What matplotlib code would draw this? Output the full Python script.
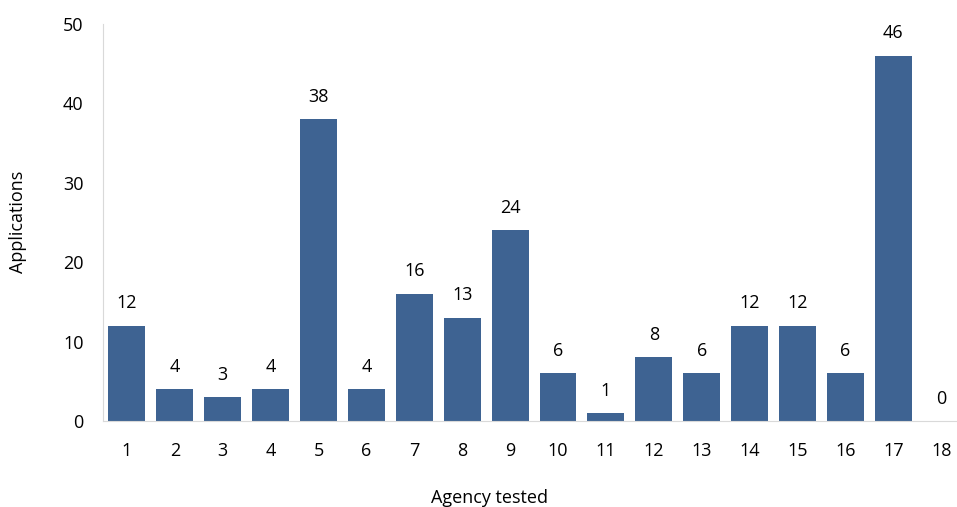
import matplotlib
matplotlib.use('Agg')
import matplotlib.pyplot as plt

# agency number and applications count
agencies = [str(i) for i in range(1, 19)]
applications = [12, 4, 3, 4, 38, 4, 16, 13, 24, 6, 1, 8, 6, 12, 12, 6, 46, 0]

plt.rcParams['font.family'] = ['Open Sans', 'DejaVu Sans']

fig = plt.figure(figsize=(9.57, 5.07), dpi=100)
ax = fig.add_axes([0.1076, 0.1696, 0.8924, 0.7831])

pos = list(range(len(agencies)))
bars = ax.bar(pos, applications, width=0.77, color='#3E6392')

for x, v in zip(pos, applications):
    ax.text(x, v + 1.7, str(v), ha='center', va='bottom', fontsize=13, color='black')

ax.set_xlim(-0.5, 17.33)
ax.set_ylim(0, 50)
ax.set_yticks([0, 10, 20, 30, 40, 50])
ax.set_xticks(pos)
ax.set_xticklabels(agencies)
ax.tick_params(axis='both', length=0, labelsize=13)
ax.tick_params(axis='x', pad=15)
ax.tick_params(axis='y', pad=14)

for s in ['top', 'right']:
    ax.spines[s].set_visible(False)
ax.spines['left'].set_color('#D9D9D9')
ax.spines['bottom'].set_color('#D9D9D9')

# axis titles placed in figure coords to match the reference
fig.text(490 / 957, 1 - 498 / 507, 'Agency tested', ha='center', va='center', fontsize=13)
fig.text(18 / 957, 1 - 222 / 507, 'Applications', ha='center', va='center',
         rotation=90, fontsize=13)

fig.savefig('out.png', dpi=100)
